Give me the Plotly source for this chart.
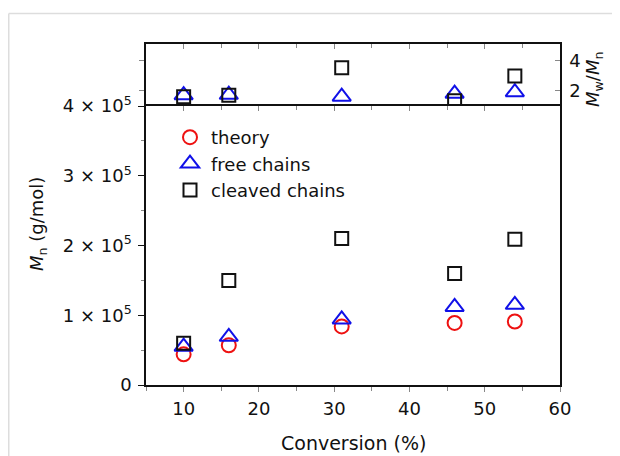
import plotly.graph_objects as go

conversion = [10, 16, 31, 46, 54]
mn_theory = [0.44e5, 0.57e5, 0.84e5, 0.89e5, 0.91e5]
mn_free = [0.55e5, 0.69e5, 0.94e5, 1.12e5, 1.15e5]
mn_cleaved = [0.60e5, 1.50e5, 2.10e5, 1.60e5, 2.09e5]
pdi_free = [1.72, 1.75, 1.62, 1.82, 1.92]
pdi_cleaved = [1.62, 1.72, 3.55, 1.35, 3.0]

x_ticks = [10, 20, 30, 40, 50, 60]
y_ticks = [0, 1e5, 2e5, 3e5, 4e5]
y_ticktext = ["0", "1 × 10<sup>5</sup>", "2 × 10<sup>5</sup>", "3 × 10<sup>5</sup>", "4 × 10<sup>5</sup>"]
pdi_ticks = [2, 4]

FONT = "DejaVu Sans, Liberation Sans, Arial, sans-serif"
FS = 18
RED = "#ee1111"
BLUE = "#1010e8"
BLACK = "#111111"
MS = 14
LW = 2

W, H = 612, 448
L, R, T, B = 138, 60, 36, 71
PW = W - L - R
PH = H - T - B


def px(x):
    return (x - L) / PW


def py(y):
    return (H - B - y) / PH


fig = go.Figure()
fig.add_trace(go.Scatter(x=conversion, y=mn_theory, mode="markers", name="theory",
                         marker=dict(symbol="circle-open", size=MS, color=RED, line=dict(width=LW, color=RED))))
fig.add_trace(go.Scatter(x=conversion, y=mn_free, mode="markers", name="free chains",
                         marker=dict(symbol="triangle-up-open", size=MS + 2, color=BLUE, line=dict(width=LW, color=BLUE))))
fig.add_trace(go.Scatter(x=conversion, y=mn_cleaved, mode="markers", name="cleaved chains",
                         marker=dict(symbol="square-open", size=MS - 1, color=BLACK, line=dict(width=LW, color=BLACK))))
fig.add_trace(go.Scatter(x=conversion, y=pdi_free, mode="markers", showlegend=False, xaxis="x2", yaxis="y2",
                         marker=dict(symbol="triangle-up-open", size=MS + 2, color=BLUE, line=dict(width=LW, color=BLUE))))
fig.add_trace(go.Scatter(x=conversion, y=pdi_cleaved, mode="markers", showlegend=False, xaxis="x2", yaxis="y2",
                         marker=dict(symbol="square-open", size=MS - 1, color=BLACK, line=dict(width=LW, color=BLACK))))
# helper traces that activate the overlay axes
fig.add_trace(go.Scatter(x=[None], y=[None], xaxis="x2", yaxis="y3", showlegend=False, hoverinfo="skip"))
fig.add_trace(go.Scatter(x=[None], y=[None], xaxis="x3", yaxis="y", showlegend=False, hoverinfo="skip"))

split = py(98)
XR = [5, 60]
PR = [1, 5.13]
tickfont = dict(family=FONT, size=FS, color="#111")
GRAY = "#888"

fig.update_layout(
    width=W, height=H,
    margin=dict(l=L, r=R, t=T, b=B),
    paper_bgcolor="white", plot_bgcolor="white",
    font=dict(family=FONT, size=FS, color="#111"),
    showlegend=True,
    legend=dict(x=px(161), y=py(111), xanchor="left", yanchor="top", bgcolor="rgba(0,0,0,0)",
                font=dict(family=FONT, size=FS, color="#111"), itemwidth=32, tracegroupgap=0),
    xaxis=dict(domain=[0, 1], anchor="y", range=XR, tickvals=x_ticks, ticks="outside", ticklen=5,
               tickcolor=GRAY, tickwidth=1, showline=True, linecolor=BLACK, linewidth=1.5,
               showgrid=False, zeroline=False, tickfont=tickfont, ticklabelstandoff=2,
               minor=dict(dtick=5, tick0=0, ticks="outside", ticklen=4, tickcolor=GRAY, showgrid=False)),
    xaxis2=dict(domain=[0, 1], anchor="y2", matches="x", range=XR, side="top", tickvals=x_ticks,
                ticks="inside", ticklen=5, tickcolor=GRAY, showticklabels=False, showline=True,
                linecolor=BLACK, linewidth=1.5, showgrid=False, zeroline=False,
                minor=dict(dtick=5, tick0=0, ticks="inside", ticklen=4, tickcolor=GRAY, showgrid=False)),
    xaxis3=dict(anchor="y", overlaying="x", matches="x", range=XR, side="top", tickvals=x_ticks,
                ticks="inside", ticklen=5, tickcolor=GRAY, showticklabels=False, showline=True,
                linecolor=BLACK, linewidth=1.5, showgrid=False, zeroline=False,
                minor=dict(dtick=5, tick0=0, ticks="inside", ticklen=4, tickcolor=GRAY, showgrid=False)),
    yaxis=dict(domain=[0, split], anchor="x", range=[0, 4e5], tickvals=y_ticks, ticktext=y_ticktext,
               ticks="outside", ticklen=6, tickcolor=BLACK, showline=True, mirror=True, linecolor=BLACK,
               linewidth=1.5, showgrid=False, zeroline=False, tickfont=tickfont, ticklabelstandoff=3,
               minor=dict(dtick=5e4, tick0=0, ticks="outside", ticklen=3, tickcolor=GRAY, showgrid=False)),
    yaxis2=dict(domain=[split, 1], anchor="x2", range=PR, tickvals=pdi_ticks, ticks="outside",
                ticklen=5, tickcolor=GRAY, showticklabels=False, showline=True, linecolor=BLACK,
                linewidth=1.5, showgrid=False, zeroline=False),
    yaxis3=dict(overlaying="y2", side="right", anchor="x2", range=PR, tickvals=pdi_ticks,
                ticks="inside", ticklen=5, tickcolor=GRAY, showticklabels=True, showline=True,
                linecolor=BLACK, linewidth=1.5, showgrid=False, zeroline=False, tickfont=tickfont,
                ticklabelstandoff=4),
)

fig.add_annotation(text="<i>M</i><sub>n</sub> (g/mol)", xref="paper", yref="paper",
                   x=px(30), y=py(216), textangle=-90, showarrow=False,
                   font=dict(family=FONT, size=FS, color="#111"), xanchor="center", yanchor="middle")
fig.add_annotation(text="<i>M</i><sub>w</sub>/<i>M</i><sub>n</sub>", xref="paper", yref="paper",
                   x=px(586), y=py(72), textangle=-90, showarrow=False,
                   font=dict(family=FONT, size=FS, color="#111"), xanchor="center", yanchor="middle")
fig.add_annotation(text="Conversion (%)", xref="paper", yref="paper",
                   x=px(345), y=py(435), showarrow=False,
                   font=dict(family=FONT, size=19, color="#111"), xanchor="center", yanchor="middle")

# light gray outer frame
fig.add_shape(type="line", xref="paper", yref="paper", x0=px(0.75), y0=py(5.5), x1=px(W + 5), y1=py(5.5),
              line=dict(color="#dddddd", width=1.5))
fig.add_shape(type="line", xref="paper", yref="paper", x0=px(0.75), y0=py(5.5), x1=px(0.75), y1=py(H + 5),
              line=dict(color="#dddddd", width=1.5))

fig.write_html("out.html")
